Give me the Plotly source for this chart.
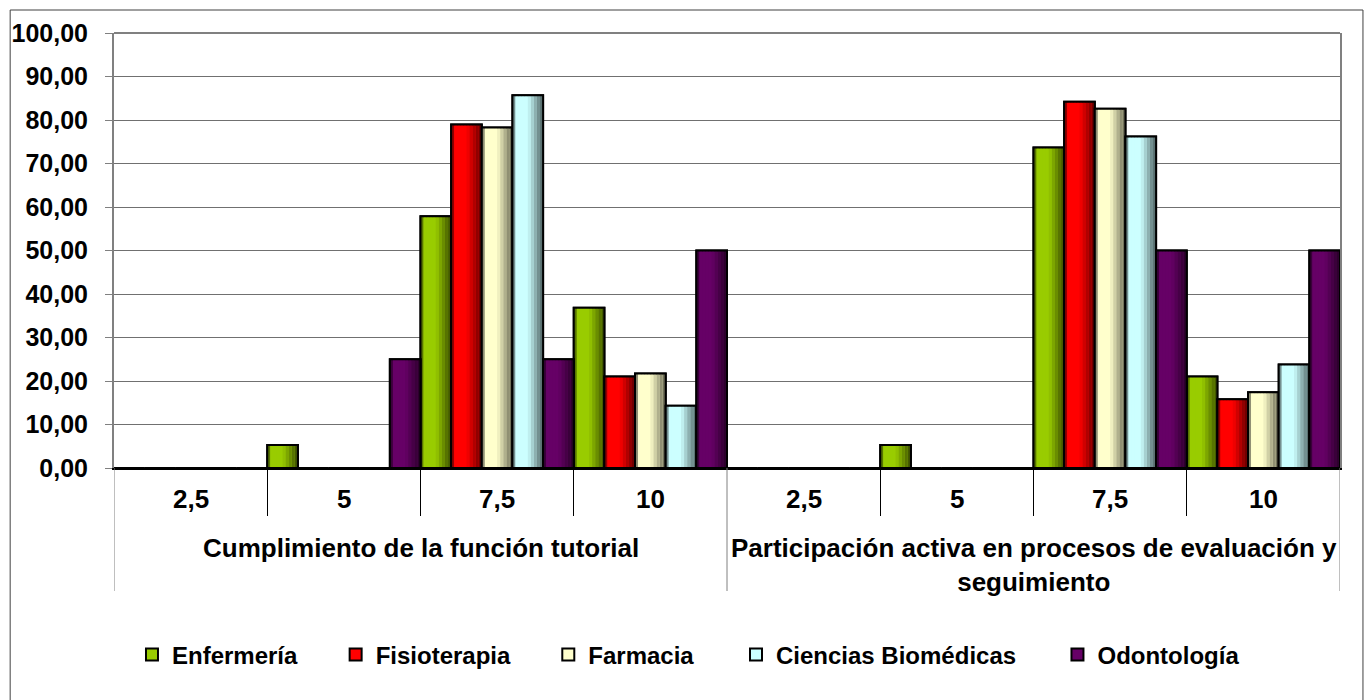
import plotly.graph_objects as go

# Category labels
groups = ["Cumplimiento de la función tutorial",
          "Participación activa en procesos de evaluación y<br>seguimiento"]
scores = ["2,5", "5", "7,5", "10"]

# Percentages per score, for both groups in sequence
enfermeria = [0, 5.26, 57.89, 36.84, 0, 5.26, 73.68, 21.05]
fisioterapia = [0, 0, 78.95, 21.05, 0, 0, 84.21, 15.79]
farmacia = [0, 0, 78.26, 21.74, 0, 0, 82.61, 17.39]
ciencias_biomedicas = [0, 0, 85.71, 14.29, 0, 0, 76.19, 23.81]
odontologia = [0, 25, 25, 50, 0, 0, 50, 50]

series_names = ["Enfermería", "Fisioterapia", "Farmacia", "Ciencias Biomédicas", "Odontología"]
series_values = [enfermeria, fisioterapia, farmacia, ciencias_biomedicas, odontologia]
series_colors = [(153, 204, 0), (255, 0, 0), (255, 255, 204), (204, 255, 255), (102, 0, 102)]

n_cat = len(groups) * len(scores)
positions = list(range(n_cat))
n_series = len(series_names)
slot = 1.0 / n_series          # each category is filled edge to edge by its bars
n_slices = 10                  # steps of the horizontal shading inside each bar

FONT = "Arial, Liberation Sans, sans-serif"

# plot area geometry in pixels (used to place the below-axis labels and legend)
W, H = 1369, 700
L, R, T, B = 112, 29, 33, 232
plot_w = W - L - R
plot_h = H - T - B


def px_x(pixel_x):
    """Convert a figure pixel column to paper x."""
    return (pixel_x - L) / plot_w


def py(pixel_y):
    """Convert a figure pixel row to paper y."""
    return (H - B - pixel_y) / plot_h


def shade(rgb, t):
    """Cylinder-like shading factor across the bar width (t in 0..1)."""
    if t < 0.15:
        f = 0.35 + 0.65 * (t / 0.15)
    elif t < 0.5:
        f = 1.0
    else:
        f = 1.0 - 0.62 * (t - 0.5) / 0.5
    r, g, b = (int(round(c * f)) for c in rgb)
    return f"rgb({r},{g},{b})"


# left edge (pixels) of each legend entry
legend_left = [130, 334, 547, 735, 1057]

fig = go.Figure()
legend_layouts = {}
for j, (name, vals, rgb) in enumerate(zip(series_names, series_values, series_colors)):
    left = -0.5 + j * slot
    base = f"rgb({rgb[0]},{rgb[1]},{rgb[2]})"
    legend_id = "legend" if j == 0 else f"legend{j + 1}"
    legend_layouts[legend_id] = dict(
        orientation="h", x=px_x(legend_left[j]), xanchor="left",
        y=py(655), yanchor="middle", bgcolor="rgba(0,0,0,0)",
        font=dict(family=FONT, size=24, color="black", weight="bold"),
        itemclick=False, itemdoubleclick=False)
    # solid bar carrying the legend entry
    fig.add_trace(go.Bar(x=positions, y=vals, width=slot, offset=left, name=name,
                         legend=legend_id,
                         marker=dict(color=base, line=dict(color="black", width=2)),
                         hoverinfo="skip"))
    # shading strips
    for k in range(n_slices):
        t = (k + 0.5) / n_slices
        fig.add_trace(go.Bar(x=positions, y=vals, width=slot / n_slices,
                             offset=left + k * slot / n_slices,
                             marker=dict(color=shade(rgb, t), line=dict(width=0)),
                             showlegend=False, hoverinfo="skip"))
    # outline on top
    fig.add_trace(go.Bar(x=positions, y=vals, width=slot, offset=left,
                         marker=dict(color="rgba(0,0,0,0)", line=dict(color="black", width=2)),
                         showlegend=False, hoverinfo="skip"))

shapes = []
# long separators at the outer edges of each group
for g in range(len(groups) + 1):
    xg = -0.5 + g * len(scores)
    shapes.append(dict(type="line", xref="x", yref="paper", x0=xg, x1=xg,
                       y0=0, y1=py(591), line=dict(color="#808080", width=1)))
# top border of the plot area
shapes.append(dict(type="line", xref="paper", yref="paper", x0=0, x1=1, y0=1, y1=1,
                   line=dict(color="#808080", width=2)))
# chart frame
shapes.append(dict(type="rect", xref="paper", yref="paper",
                   x0=px_x(8), x1=px_x(1363), y0=py(705), y1=py(10),
                   line=dict(color="#404040", width=1),
                   fillcolor="rgba(0,0,0,0)", layer="below"))

annotations = []
for i in positions:
    annotations.append(dict(x=i, y=py(499), xref="x", yref="paper",
                            text=scores[i % len(scores)], showarrow=False,
                            yanchor="middle",
                            font=dict(family=FONT, size=26, color="black", weight="bold")))
for g, label in enumerate(groups):
    annotations.append(dict(x=g * len(scores) + (len(scores) - 1) / 2, y=py(531),
                            xref="x", yref="paper", text=label, showarrow=False,
                            yanchor="top", align="center",
                            font=dict(family=FONT, size=26, color="black", weight="bold")))

# tick marks between scores inside each group
inner_ticks = [i + 0.5 for i in positions[:-1] if (i + 1) % len(scores) != 0]

fig.update_layout(
    width=W, height=H,
    margin=dict(l=L, r=R, t=T, b=B),
    paper_bgcolor="white", plot_bgcolor="white",
    barmode="overlay",
    separators=", ",
    showlegend=True,
    xaxis=dict(range=[-0.5, n_cat - 0.5], tickvals=inner_ticks, ticktext=[""] * len(inner_ticks),
               ticks="outside", ticklen=46, tickcolor="black", tickwidth=1,
               showgrid=False, zeroline=False, showline=True, linecolor="black", linewidth=2,
               showticklabels=False, fixedrange=True),
    yaxis=dict(range=[0, 100], dtick=10, tickformat=".2f",
               ticks="outside", ticklen=7, tickcolor="#808080",
               ticklabelstandoff=12,
               showgrid=True, gridcolor="#707070", gridwidth=1,
               zeroline=False, showline=True, linecolor="#808080", linewidth=2, mirror=True,
               tickfont=dict(family=FONT, size=25, color="black", weight="bold"),
               fixedrange=True),
    shapes=shapes,
    annotations=annotations,
    **legend_layouts,
)

fig.write_html("out.html")
